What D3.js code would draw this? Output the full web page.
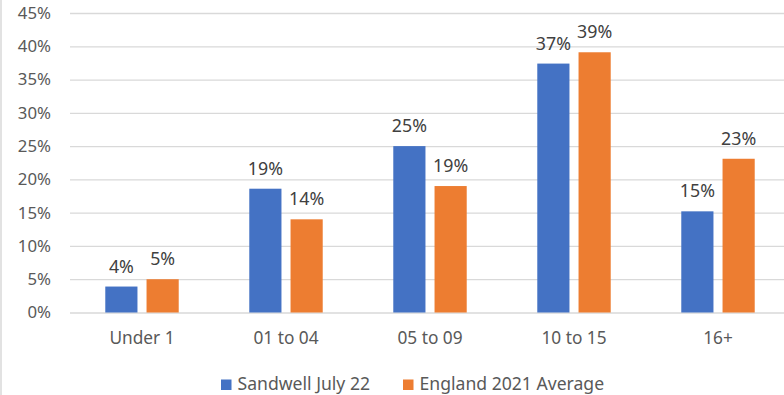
<!DOCTYPE html>
<html><head><meta charset="utf-8">
<script src="https://cdn.jsdelivr.net/npm/d3@7"></script>
<style>body{margin:0;background:#fff}svg{display:block}text{font-family:"Noto Sans","Open Sans",sans-serif}</style>
</head><body><svg id="c" width="784" height="395"></svg>
<script>
const categories = ["Under 1","01 to 04","05 to 09","10 to 15","16+"];
const sandwell = [3.9,18.6,25.0,37.4,15.2];
const england = [5.0,14.0,19.0,39.1,23.1];
const seriesNames = ["Sandwell July 22","England 2021 Average"];
const colors = ["#4472c4","#ed7d31"];
const yTicks = [0,5,10,15,20,25,30,35,40,45];

(function(){
const svg = d3.select("#c");
svg.append("rect").attr("x",1).attr("y",-2).attr("width",790).attr("height",400).attr("fill","none").attr("stroke","#d9d9d9").attr("stroke-width",1.5);
const pL=70,pR=790,pT=13,pB=312.5;
const y = d3.scaleLinear().domain([0,45]).range([pB,pT]);
const x0 = d3.scaleBand().domain(categories).range([pL,pR]).paddingInner(0.49).paddingOuter(0.245);
const x1 = d3.scaleBand().domain([0,1]).range([0,x0.bandwidth()]).paddingInner(0.22);

const yAxis = d3.axisLeft(y).tickValues(yTicks).tickFormat(d=>d+"%").tickSize(-(pR-pL)).tickPadding(19);
const ga = svg.append("g").attr("transform",`translate(${pL},0)`).call(yAxis);
ga.select(".domain").remove();
ga.selectAll(".tick line").attr("stroke","#d9d9d9").attr("stroke-width",1.3);
ga.selectAll(".tick text").attr("fill","#595959").attr("font-size",16.8);

const xAxis = d3.axisBottom(x0).tickSize(0).tickPadding(19);
const gx = svg.append("g").attr("transform",`translate(0,${pB})`).call(xAxis);
gx.select(".domain").remove();
gx.selectAll(".tick text").attr("fill","#595959").attr("font-size",17.3);

const data = categories.map((c,i)=>({c,vals:[sandwell[i],england[i]]}));
const g = svg.append("g").selectAll("g").data(data).join("g").attr("transform",d=>`translate(${x0(d.c)},0)`);
g.selectAll("rect").data(d=>d.vals).join("rect")
 .attr("x",(d,i)=>x1(i)).attr("width",x1.bandwidth())
 .attr("y",d=>y(d)).attr("height",d=>pB-y(d)).attr("fill",(d,i)=>colors[i]);
g.selectAll("text.v").data(d=>d.vals).join("text").attr("class","v")
 .attr("x",(d,i)=>x1(i)+x1.bandwidth()/2).attr("y",d=>y(d)-14)
 .attr("text-anchor","middle").attr("fill","#404040").attr("font-size",17.8)
 .text(d=>Math.round(d)+"%");

const leg = svg.append("g");
const lx=[221,403];
seriesNames.forEach((s,i)=>{
  leg.append("rect").attr("x",lx[i]).attr("y",379.5).attr("width",10.5).attr("height",10.5).attr("fill",colors[i]);
  leg.append("text").attr("x",lx[i]+16.5).attr("y",390).attr("fill","#595959").attr("font-size",17.6).text(s);
});
})();
</script></body></html>
